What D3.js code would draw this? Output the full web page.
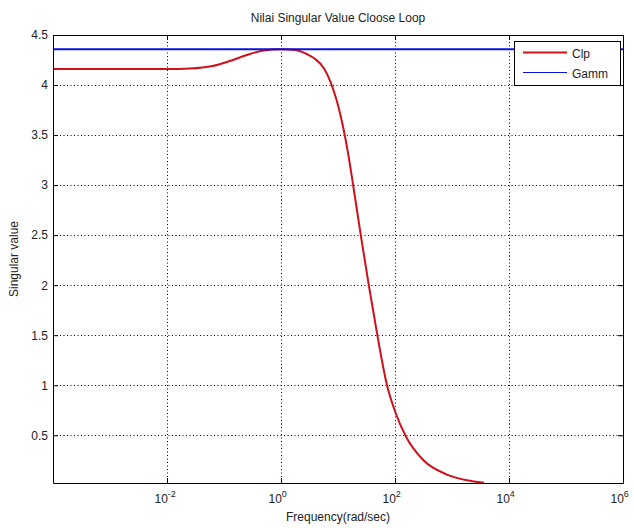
<!DOCTYPE html>
<html>
<head>
<meta charset="utf-8">
<script src="https://cdn.jsdelivr.net/npm/d3@7"></script>
<style>
  html, body { margin: 0; padding: 0; background: #fff; }
  svg { display: block; font-family: "Liberation Sans", Arial, sans-serif; }
</style>
</head>
<body>
<svg id="chart" width="634" height="528"></svg>
<script>
// Closed-loop singular value (Clp) against frequency, plus the Gamma bound.
const freq = [0.0001, 0.01, 0.0251, 0.0631, 0.126, 0.251, 0.501, 1, 1.78, 2.82,
              3.98, 5.62, 7.41, 9.44, 12.6, 14.8, 18.2, 25.1, 34.7, 49.0,
              72.4, 100, 158, 316, 794, 1820, 3630];
const clp = [4.16, 4.16, 4.165, 4.19, 4.24, 4.30, 4.345, 4.357, 4.35, 4.31,
             4.26, 4.17, 4.03, 3.85, 3.55, 3.34, 3.02, 2.5, 2.0, 1.5,
             1.0, 0.74, 0.48, 0.25, 0.11, 0.05, 0.025];
const gammaLevel = 4.357;
const xTickExps = [-2, 0, 2, 4, 6];
const yTicks = [0.5, 1, 1.5, 2, 2.5, 3, 3.5, 4, 4.5];
const seriesNames = ["Clp", "Gamm"];

const plotLeft = 53, plotRight = 623, plotTop = 35, plotBottom = 483;
const svg = d3.select("#chart");

const x = d3.scaleLog().domain([1e-4, 1e6]).range([plotLeft, plotRight]);
const y = d3.scaleLinear().domain([0.023, 4.5]).range([plotBottom, plotTop]);
const xTicks = xTickExps.map(e => Math.pow(10, e));

// dotted grid
const grid = svg.append("g");
grid.selectAll("line.gx").data(xTicks).join("line").attr("class", "gx")
  .attr("x1", d => Math.round(x(d)) + 0.5).attr("x2", d => Math.round(x(d)) + 0.5)
  .attr("y1", plotTop).attr("y2", plotBottom);
grid.selectAll("line.gy").data(yTicks).join("line").attr("class", "gy")
  .attr("x1", plotLeft).attr("x2", plotRight)
  .attr("y1", d => Math.round(y(d)) + 0.5).attr("y2", d => Math.round(y(d)) + 0.5);
grid.selectAll("line").attr("stroke", "#000").attr("stroke-width", 1)
  .attr("stroke-dasharray", "1,2.5");

// series
const line = d3.line().x(d => x(d[0])).y(d => y(d[1])).curve(d3.curveMonotoneX);
svg.append("path")
  .datum(freq.map((f, i) => [f, clp[i]]))
  .attr("fill", "none").attr("stroke", "#d0101a").attr("stroke-width", 2)
  .attr("d", line);
svg.append("path")
  .datum([[1e-4, gammaLevel], [1e6, gammaLevel]])
  .attr("fill", "none").attr("stroke", "#0a10e0").attr("stroke-width", 2)
  .attr("d", d3.line().x(d => x(d[0])).y(d => y(d[1])));

// axes with inward ticks
const tickLen = 5;
const gx = svg.append("g").attr("transform", `translate(0,${plotBottom})`)
  .call(d3.axisBottom(x).tickValues(xTicks).tickSizeInner(-tickLen).tickSizeOuter(0).tickFormat(() => ""));
gx.selectAll(".tick text").each(function(d) {
  const t = d3.select(this);
  const e = Math.round(Math.log10(d));
  t.attr("y", 20).attr("dy", 0).attr("x", -13).attr("text-anchor", "start")
    .attr("font-size", 12).attr("fill", "#222");
  t.append("tspan").text("10");
  t.append("tspan").attr("dy", -6).attr("font-size", 9).text(e);
});
const gy = svg.append("g").attr("transform", `translate(${plotLeft},0)`)
  .call(d3.axisLeft(y).tickValues(yTicks).tickSizeInner(-tickLen).tickSizeOuter(0).tickPadding(5)
    .tickFormat(d3.format("")));
gy.selectAll(".tick text").attr("font-size", 12).attr("fill", "#222");
svg.append("g").attr("transform", `translate(0,${plotTop})`)
  .call(d3.axisTop(x).tickValues(xTicks).tickSizeInner(-tickLen).tickSizeOuter(0).tickFormat(() => ""));
svg.append("g").attr("transform", `translate(${plotRight},0)`)
  .call(d3.axisRight(y).tickValues(yTicks).tickSizeInner(-tickLen).tickSizeOuter(0).tickFormat(() => ""));
svg.selectAll(".domain").attr("stroke", "#000");
svg.selectAll(".tick line").attr("stroke", "#000");

// title and axis labels
svg.append("text").attr("x", (plotLeft + plotRight) / 2).attr("y", 22).attr("text-anchor", "middle")
  .attr("font-size", 12).attr("fill", "#222").text("Nilai Singular Value Cloose Loop");
svg.append("text").attr("x", (plotLeft + plotRight) / 2).attr("y", 521).attr("text-anchor", "middle")
  .attr("font-size", 12).attr("fill", "#222").text("Frequency(rad/sec)");
svg.append("text").attr("transform", `translate(18,${(plotTop + plotBottom) / 2}) rotate(-90)`)
  .attr("text-anchor", "middle").attr("font-size", 12).attr("fill", "#222").text("Singular value");

// legend
const lg = svg.append("g");
lg.append("rect").attr("x", 514.5).attr("y", 41.5).attr("width", 106).attr("height", 44)
  .attr("fill", "#fff").attr("stroke", "#000").attr("stroke-width", 1);
const legendColors = ["#d0101a", "#0a10e0"];
const legendWidths = [2, 1.2];
seriesNames.forEach((name, i) => {
  const cy = 52.5 + i * 20;
  lg.append("line").attr("x1", 523).attr("x2", 567).attr("y1", cy).attr("y2", cy)
    .attr("stroke", legendColors[i]).attr("stroke-width", legendWidths[i]);
  lg.append("text").attr("x", 572).attr("y", cy + 5).attr("font-size", 12).attr("fill", "#222").text(name);
});
</script>
</body>
</html>
